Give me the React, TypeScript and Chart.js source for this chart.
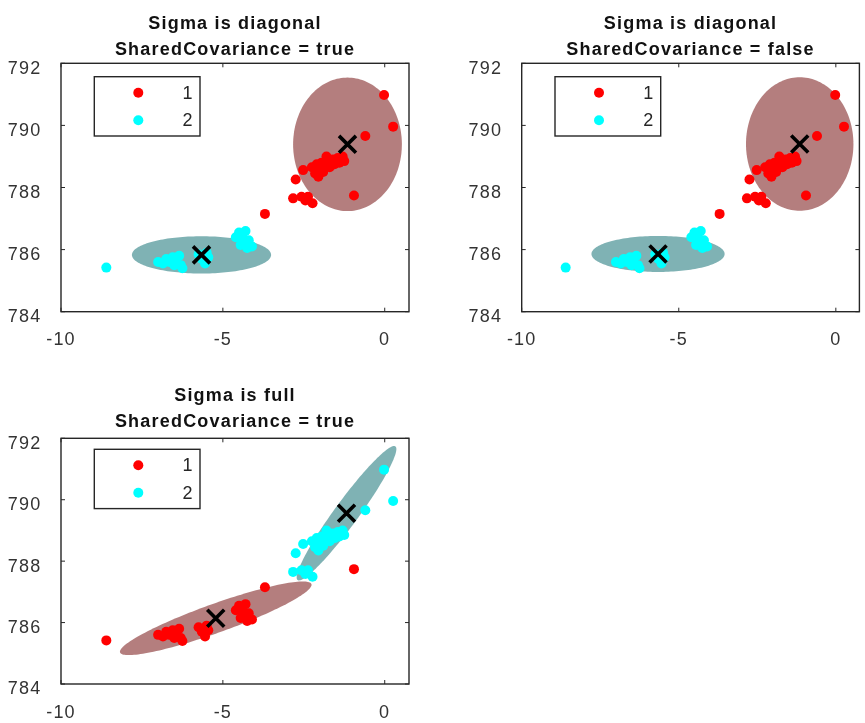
import React, { useEffect, useRef } from "react";
import { Chart, registerables } from "chart.js";

Chart.register(...registerables);

// ---------------- data ----------------
const pointX = [
  -2.25, -2.15, -2.1, -2.0, -1.95, -1.9, -1.85, -1.75, -1.7, -1.6, -1.55, -1.45, -1.4, -1.3, -1.25, -2.05, -1.8,
  -0.02, 0.26, -0.6, -2.52, -2.75, -2.83, -2.57, -2.37, -2.23, -2.45, -0.95, -3.7,
  -8.6, -7.0, -6.85, -6.75, -6.65, -6.55, -6.45, -6.35, -6.3, -6.25, -6.5,
  -5.75, -5.65, -5.55, -5.5, -5.45,
  -4.6, -4.5, -4.4, -4.35, -4.3, -4.2, -4.1, -4.45, -4.25,
];
const pointY = [
  788.65, 788.45, 788.75, 788.6, 788.8, 788.5, 788.7, 788.85, 788.65, 788.9, 788.75, 788.95, 788.8, 789.0, 788.85, 788.35, 789.0,
  790.98, 789.96, 789.66, 788.56, 788.26, 787.65, 787.7, 787.7, 787.49, 787.58, 787.74, 787.15,
  785.42, 785.6, 785.55, 785.7, 785.6, 785.75, 785.65, 785.8, 785.5, 785.4, 785.5,
  785.85, 785.7, 785.55, 785.9, 785.75,
  786.4, 786.55, 786.45, 786.25, 786.6, 786.3, 786.1, 786.15, 786.05,
];

// cluster assignment of every point, per model
const clusterDiagShared = [
  1, 1, 1, 1, 1, 1, 1, 1, 1, 1, 1, 1, 1, 1, 1, 1, 1,
  1, 1, 1, 1, 1, 1, 1, 1, 1, 1, 1, 1,
  2, 2, 2, 2, 2, 2, 2, 2, 2, 2, 2,
  2, 2, 2, 2, 2,
  2, 2, 2, 2, 2, 2, 2, 2, 2,
];
const clusterDiagUnshared = [
  1, 1, 1, 1, 1, 1, 1, 1, 1, 1, 1, 1, 1, 1, 1, 1, 1,
  1, 1, 1, 1, 1, 1, 1, 1, 1, 1, 1, 1,
  2, 2, 2, 2, 2, 2, 2, 2, 2, 2, 2,
  2, 2, 2, 2, 2,
  2, 2, 2, 2, 2, 2, 2, 2, 2,
];
const clusterFullShared = [
  2, 2, 2, 2, 2, 2, 2, 2, 2, 2, 2, 2, 2, 2, 2, 2, 2,
  2, 2, 2, 2, 2, 2, 2, 2, 2, 2, 1, 1,
  1, 1, 1, 1, 1, 1, 1, 1, 1, 1, 1,
  1, 1, 1, 1, 1,
  1, 1, 1, 1, 1, 1, 1, 1, 1,
];

// component means [component 1, component 2]
const muDiagSharedX = [-1.15, -5.66];
const muDiagSharedY = [789.39, 785.83];
const muDiagUnsharedX = [-1.15, -5.66];
const muDiagUnsharedY = [789.4, 785.86];
const muFullSharedX = [-5.22, -1.18];
const muFullSharedY = [786.14, 789.56];

// contour covariance [sxx, sxy, syy] per component
const sigmaDiagShared = [
  [2.822, 0, 4.623],
  [4.623, 0, 0.36],
];
const sigmaDiagUnshared = [
  [2.924, 0, 4.623],
  [4.494, 0, 0.336],
];
const sigmaFullShared = [
  [8.762, 3.226, 1.438],
  [2.372, 3.219, 4.79],
];

const titleDiagShared = ["Sigma is diagonal", "SharedCovariance = true"];
const titleDiagUnshared = ["Sigma is diagonal", "SharedCovariance = false"];
const titleFullShared = ["Sigma is full", "SharedCovariance = true"];

const legendLabels = ["1", "2"];
const xTickValues = [-10, -5, 0];
const yTickValues = [784, 786, 788, 790, 792];
const xLimits = [-10, 0.75];
const yLimits = [784, 792];

// ---------------- styles ----------------
const markerColors = ["#ff0000", "#00ffff"];
const contourColors = ["#b47e7e", "#7fb2b4"];
const FONT = '"Liberation Sans", Arial, Helvetica, sans-serif';
const AXIS_COLOR = "#262626";
const SPACING = "1.2px";

const models = [
  { cls: clusterDiagShared, muX: muDiagSharedX, muY: muDiagSharedY, sigma: sigmaDiagShared, title: titleDiagShared },
  { cls: clusterDiagUnshared, muX: muDiagUnsharedX, muY: muDiagUnsharedY, sigma: sigmaDiagUnshared, title: titleDiagUnshared },
  { cls: clusterFullShared, muX: muFullSharedX, muY: muFullSharedY, sigma: sigmaFullShared, title: titleFullShared },
];

const panels = [
  { left: 0, top: 0, width: 430, height: 360, pad: { left: 0, right: 21, top: 0, bottom: 9.3 }, titlePad: { top: 11.3, bottom: 0 }, legendTop: 13.4 },
  { left: 430, top: 0, width: 445, height: 360, pad: { left: 30.7, right: 2.2, top: 0, bottom: 9.3 }, titlePad: { top: 11.3, bottom: 0 }, legendTop: 13.4 },
  { left: 0, top: 360, width: 430, height: 363, pad: { left: 0, right: 21, top: 0, bottom: 0 }, titlePad: { top: 23.5, bottom: 2.8 }, legendTop: 11 },
];

function buildConfig(i: number): any {
  const m = models[i];
  const p = panels[i];
  const pts = pointX.map((x, k) => ({ x, y: pointY[k] }));

  const figurePlugin = {
    id: "figure" + i,
    beforeLayout(chart: any) {
      chart.ctx.letterSpacing = SPACING;
    },
    beforeDraw(chart: any) {
      chart.ctx.letterSpacing = SPACING;
    },
    beforeDatasetsDraw(chart: any) {
      const { ctx, chartArea: a } = chart;
      const xs = chart.scales.x;
      const ys = chart.scales.y;
      ctx.save();
      ctx.beginPath();
      ctx.rect(a.left, a.top, a.right - a.left, a.bottom - a.top);
      ctx.clip();
      m.sigma.forEach((s, c) => {
        const [sxx, sxy, syy] = s;
        const l11 = Math.sqrt(sxx);
        const l21 = sxy / l11;
        const l22 = Math.sqrt(Math.max(syy - l21 * l21, 0));
        ctx.beginPath();
        const n = 160;
        for (let k = 0; k <= n; k++) {
          const t = (k / n) * Math.PI * 2;
          const ct = Math.cos(t);
          const st = Math.sin(t);
          const px = xs.getPixelForValue(m.muX[c] + l11 * ct);
          const py = ys.getPixelForValue(m.muY[c] + l21 * ct + l22 * st);
          if (k === 0) ctx.moveTo(px, py);
          else ctx.lineTo(px, py);
        }
        ctx.closePath();
        ctx.fillStyle = contourColors[c];
        ctx.fill();
      });
      ctx.restore();
    },
    afterDatasetsDraw(chart: any) {
      const { ctx, chartArea: a } = chart;
      const xs = chart.scales.x;
      const ys = chart.scales.y;
      ctx.save();
      // inward ticks on all four sides
      ctx.strokeStyle = AXIS_COLOR;
      ctx.lineWidth = 1;
      const tl = 4;
      ctx.beginPath();
      xTickValues.forEach((v) => {
        const px = xs.getPixelForValue(v);
        ctx.moveTo(px, a.bottom);
        ctx.lineTo(px, a.bottom - tl);
        ctx.moveTo(px, a.top);
        ctx.lineTo(px, a.top + tl);
      });
      yTickValues.forEach((v) => {
        const py = ys.getPixelForValue(v);
        ctx.moveTo(a.left, py);
        ctx.lineTo(a.left + tl, py);
        ctx.moveTo(a.right, py);
        ctx.lineTo(a.right - tl, py);
      });
      ctx.stroke();
      // axes box
      ctx.lineWidth = 1.4;
      ctx.strokeRect(a.left, a.top, a.right - a.left, a.bottom - a.top);

      // legend
      const lx = a.left + 33.3;
      const ly = a.top + p.legendTop;
      const lw = 105.7;
      const lh = 59.3;
      ctx.fillStyle = "#ffffff";
      ctx.fillRect(lx, ly, lw, lh);
      ctx.lineWidth = 1.4;
      ctx.strokeStyle = AXIS_COLOR;
      ctx.strokeRect(lx, ly, lw, lh);
      const rows = [16, 43.5];
      legendLabels.forEach((lab, k) => {
        const cy = ly + rows[k];
        ctx.beginPath();
        ctx.arc(lx + 44, cy, 5, 0, Math.PI * 2);
        ctx.fillStyle = markerColors[k];
        ctx.fill();
        ctx.fillStyle = AXIS_COLOR;
        ctx.font = "18px " + FONT;
        ctx.textAlign = "right";
        ctx.textBaseline = "middle";
        ctx.fillText(lab, lx + 99.5, cy + 1);
      });
      ctx.restore();
    },
  };

  const datasets: any[] = [
    {
      label: "means",
      data: m.muX.map((x, k) => ({ x, y: m.muY[k] })),
      pointStyle: "crossRot",
      pointRadius: 12,
      pointBorderWidth: 3.6,
      pointBorderColor: "#000000",
      pointBackgroundColor: "rgba(0,0,0,0)",
      showLine: false,
      order: 0,
    },
  ];
  [1, 2].forEach((c, k) => {
    datasets.push({
      label: legendLabels[k],
      data: pts.filter((_, j) => m.cls[j] === c),
      pointRadius: 5,
      pointBorderWidth: 0,
      pointBackgroundColor: markerColors[k],
      showLine: false,
      order: k + 1,
    });
  });

  const tickFont = { family: FONT, size: 18 };

  return {
    type: "scatter",
    data: { datasets },
    options: {
      responsive: false,
      animation: false,
      devicePixelRatio: 1,
      events: [],
      layout: { padding: p.pad },
      plugins: {
        legend: { display: false },
        tooltip: { enabled: false },
        title: {
          display: true,
          text: m.title,
          color: "#111111",
          fullSize: false,
          font: { family: FONT, size: 18, weight: "bold", lineHeight: "26px" },
          padding: { top: p.titlePad.top, bottom: p.titlePad.bottom },
        },
      },
      scales: {
        x: {
          type: "linear",
          min: xLimits[0],
          max: xLimits[1],
          grid: { display: false },
          border: { display: false },
          afterBuildTicks: (s: any) => {
            s.ticks = xTickValues.map((v) => ({ value: v }));
          },
          ticks: {
            padding: 10,
            color: "#333333",
            font: tickFont,
            maxRotation: 0,
            autoSkip: false,
            callback: (v: any) => String(v),
          },
          afterFit: (s: any) => {
            s.height = 39;
          },
        },
        y: {
          type: "linear",
          min: yLimits[0],
          max: yLimits[1],
          grid: { display: false },
          border: { display: false },
          afterBuildTicks: (s: any) => {
            s.ticks = yTickValues.map((v) => ({ value: v }));
          },
          ticks: {
            padding: 11.5,
            labelOffset: 5.5,
            color: "#333333",
            font: tickFont,
            autoSkip: false,
            callback: (v: any) => String(v),
          },
          afterFit: (s: any) => {
            s.width = 61;
          },
        },
      },
    },
    plugins: [figurePlugin],
  };
}

export default function App() {
  const r0 = useRef<HTMLCanvasElement>(null);
  const r1 = useRef<HTMLCanvasElement>(null);
  const r2 = useRef<HTMLCanvasElement>(null);
  const refs = [r0, r1, r2];

  useEffect(() => {
    const charts = refs.map((r, i) => new Chart(r.current as HTMLCanvasElement, buildConfig(i)));
    return () => charts.forEach((c) => c.destroy());
  }, []);

  return (
    <div
      style={{
        position: "absolute",
        left: 0,
        top: 0,
        width: 865,
        height: 723,
        overflow: "hidden",
        background: "#ffffff",
      }}
    >
      {panels.map((p, i) => (
        <div key={i} style={{ position: "absolute", left: p.left, top: p.top, width: p.width, height: p.height }}>
          <canvas
            ref={refs[i]}
            width={p.width}
            height={p.height}
            style={{ display: "block", width: p.width, height: p.height }}
          />
        </div>
      ))}
    </div>
  );
}
